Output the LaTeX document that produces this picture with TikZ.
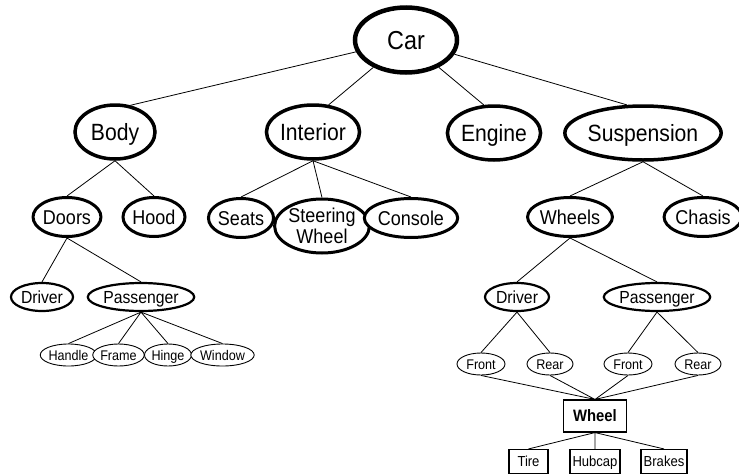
\documentclass[tikz,border=0pt]{standalone}
\usepackage{fontspec}
\setmainfont{Liberation Sans}[FakeStretch=0.9]
\usepackage{tikz}
\usetikzlibrary{shapes.geometric,positioning}
\newcommand{\fsz}[1]{\fontsize{#1}{#1}\selectfont}

\begin{document}
\begin{tikzpicture}[x=1pt, y=-1pt,
  oval/.style={ellipse, draw, fill=white, inner sep=0pt, text depth=0pt},
  root/.style={oval, line width=4.5pt, minimum width=102pt, minimum height=65pt, font=\fsz{26}, text height=18.7pt},
  major/.style={oval, line width=3.5pt, minimum height=54pt, font=\fsz{23.5}, text height=16.9pt},
  minor/.style={oval, line width=3pt, minimum height=39pt, font=\fsz{20}, text height=14.4pt},
  side/.style={oval, line width=2.2pt, minimum height=28pt, font=\fsz{17.5}, text height=12.6pt},
  leaf/.style={oval, line width=0.9pt, minimum height=22pt, font=\fsz{14}, text height=10.1pt},
  part/.style={rectangle, draw, fill=white, inner sep=0pt, line width=1.1pt, font=\fsz{14.5},
               text height=10.4pt, text depth=0pt},
  link/.style={line width=0.8pt}]
  \useasboundingbox (0,0) rectangle (739,474);

  % top levels
  \node[root] (car) at (406,40) {Car};
  \node[major, minimum width=80pt] (body) at (115,132) {Body};
  \node[major, minimum width=93pt] (interior) at (313,132) {Interior};
  \node[major, minimum width=87pt] (engine) at (494,133) {Engine};
  \node[major, minimum width=143pt] (susp) at (643,133) {Suspension};

  \node[minor, minimum width=62pt] (doors) at (67,217) {Doors};
  \node[minor, minimum width=62pt] (hood) at (154,217) {Hood};
  \node[minor, minimum width=60pt] (seats) at (241,218) {Seats};
  \node[minor, minimum width=94pt, minimum height=54pt, align=center,
        text height=, text depth=, font=\fontsize{20}{21}\selectfont] (steer) at (322,226) {Steering\\Wheel};
  \node[minor, minimum width=74pt] (console) at (411,218) {Console};
  \node[minor, minimum width=78pt] (wheels) at (570,217) {Wheels};
  \node[minor, minimum width=72pt] (chasis) at (703,217) {Chasis};

  % doors
  \node[side, minimum width=62pt] (ldriver) at (42,297) {Driver};
  \node[side, minimum width=93pt] (lpass) at (141,297) {Passenger};
  \node[leaf, minimum width=46pt] (handle) at (68.5,355) {Handle};
  \node[leaf, minimum width=46pt] (frame) at (118.5,355) {Frame};
  \node[leaf, minimum width=47pt] (hinge) at (168,355) {Hinge};
  \node[leaf, minimum width=55pt] (window) at (222.5,355) {Window};

  % wheels
  \node[side, minimum width=64pt] (rdriver) at (517,297) {Driver};
  \node[side, minimum width=96pt] (rpass) at (657,297) {Passenger};
  \node[leaf, minimum width=48pt] (dfront) at (481,364) {Front};
  \node[leaf, minimum width=46pt] (drear) at (550,364) {Rear};
  \node[leaf, minimum width=48pt] (pfront) at (628,364) {Front};
  \node[leaf, minimum width=46pt] (prear) at (698,364) {Rear};
  \node[part, minimum width=63pt, minimum height=32pt, font=\fsz{16.5}\bfseries,
        text height=11.9pt] (wheel) at (595,416) {Wheel};
  \node[part, minimum width=39pt, minimum height=24pt] (tire) at (528.5,461.5) {Tire};
  \node[part, minimum width=50pt, minimum height=24pt] (hubcap) at (595,461.5) {Hubcap};
  \node[part, minimum width=46pt, minimum height=24pt] (brakes) at (664,461.5) {Brakes};

  \draw[link] (car) -- (body.60) (car) -- (interior.60) (car) -- (engine.110) (car) -- (susp.120);
  \draw[link] (body.south) -- (doors.north) (body.south) -- (hood.north);
  \draw[link] (interior.south) -- (seats.north) (interior.south) -- (steer.north)
              (interior.south) -- (console.north);
  \draw[link] (susp.south) -- (wheels.north) (susp.south) -- (chasis.north);
  \draw[link] (doors.south) -- (ldriver.north) (doors.south) -- (lpass.north);
  \draw[link] (lpass.south) -- (handle.north) (lpass.south) -- (frame.north)
              (lpass.south) -- (hinge.north) (lpass.south) -- (window.north);
  \draw[link] (wheels.south) -- (rdriver.north) (wheels.south) -- (rpass.north);
  \draw[link] (rdriver.south) -- (dfront.north) (rdriver.south) -- (drear.north);
  \draw[link] (rpass.south) -- (pfront.north) (rpass.south) -- (prear.north);
  \draw[link] (dfront.south) -- (wheel.north) (drear.south) -- (wheel.north)
              (pfront.south) -- (wheel.north) (prear.south) -- (wheel.north);
  \draw[link] (wheel.south) -- (tire.north) (wheel.south) -- (hubcap.north)
              (wheel.south) -- (brakes.north);
\end{tikzpicture}
\end{document}
